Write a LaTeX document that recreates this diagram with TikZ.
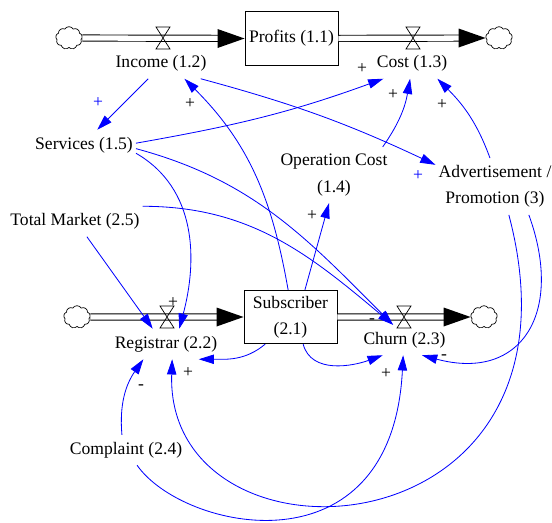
\documentclass[tikz,border=0pt]{standalone}
\usepackage{fontspec}
\setmainfont{Liberation Serif}
\usepackage{tikz}
\usetikzlibrary{arrows.meta}
\usetikzlibrary{shapes.symbols}

\tikzset{
  var/.style={inner xsep=2.5pt, inner ysep=6pt, align=center},
  stock/.style={draw, line width=0.8pt, minimum width=2.79cm, minimum height=1.6cm, inner sep=1pt, align=center},
  cloudy/.style={cloud, draw, fill=white, line width=0.6pt, cloud puffs=9, cloud puff arc=120, aspect=1.15, minimum width=0.8cm, minimum height=0.68cm, inner sep=0pt},
  pipe/.style={draw, double, double distance=4.5pt, line width=0.8pt},
  valve/.style={draw, line width=0.6pt},
  link/.style={blue, line width=0.7pt, -{Triangle[length=13pt,width=8pt]}},
  sign/.style={inner sep=0pt}
}

\begin{document}
\begin{tikzpicture}[x=0.03cm, y=0.03cm, font=\fontsize{15}{22.5}\selectfont]
\useasboundingbox (0,0) rectangle (552,-522);

% stocks and clouds
\node[stock] (prof) at (291.5,-38.5) {Profits (1.1)};
\node[stock] (sub) at (290.5,-317) {Subscriber\\(2.1)};
\node[cloudy] (cA) at (69,-38) {};
\node[cloudy] (cB) at (499,-38) {};
\node[cloudy] (cC) at (77,-317) {};
\node[cloudy] (cD) at (484,-317) {};

% flows
\draw[pipe, shorten >=10pt] (cA) -- (prof);
\draw[pipe, shorten >=10pt] (prof) -- (cB);
\draw[pipe, shorten >=10pt] (cC) -- (sub);
\draw[pipe, shorten >=10pt] (sub) -- (cD);
\fill (prof.west) -- ++(-27,9.5) -- ++(0,-19) -- cycle;
\fill (cB.west) -- ++(-27,9.5) -- ++(0,-19) -- cycle;
\fill (sub.west) -- ++(-27,9.5) -- ++(0,-19) -- cycle;
\fill (cD.west) -- ++(-27,9.5) -- ++(0,-19) -- cycle;

\coordinate (vInc) at (163,-38);
\coordinate (vCost) at (413,-38);
\coordinate (vReg) at (167,-317);
\coordinate (vChurn) at (404,-317);
\foreach \v in {vInc,vCost,vReg,vChurn}
  \draw[valve] (\v) ++(-7,11) -- ++(14,0) -- ++(-14,-22) -- ++(14,0) -- cycle;

% variables
\node[var] (inc) at (161,-63.5) {Income (1.2)};
\node[var] (cost) at (412,-63.5) {Cost (1.3)};
\node[var] (reg) at (166,-344) {Registrar (2.2)};
\node[var] (churn) at (404.5,-340) {Churn (2.3)};
\node[var] (serv) at (84,-145) {Services (1.5)};
\node[var] (opc) at (334,-175) {Operation Cost\\(1.4)};
\node[var] (adv) at (495,-186.5) {Advertisement /\\Promotion (3)};
\node[var] (tm) at (75,-221.5) {Total Market (2.5)};
\node[var] (comp) at (126,-450) {Complaint (2.4)};

% causal links
\draw[link] (inc.230) -- (serv.49);
\draw[link] (sub.95) to[out=100,in=-45] (inc.-33);
\draw[link] (inc.-21) to[bend left=5] (adv.160);
\draw[link] (serv.2) to[out=10,in=200] (cost.208);
\draw[link] (opc.30) to[out=55,in=-100] (cost.-97);
\draw[link] (adv.100) to[out=110,in=-45] (cost.-31);
\draw[link] (sub.62) -- (opc.-100);
\draw[link] (serv.-9) to[out=-30,in=75] (reg.49);
\draw[link] (serv.-4) to[out=-15,in=135] (churn.127);
\draw[link] (tm.north east) to[out=0,in=140] (churn.127);
\draw[link] (tm.-52) -- (reg.131);
\draw[link] (sub.-133) to[out=-140,in=0] (reg.-25);
\draw[link] (sub.-65) to[out=-75,in=-160] (churn.-145);
\draw[link] (comp.105) to[out=95,in=-125] (reg.-146);
\draw[link] (comp.-54) .. controls (183,-531) and (392,-576) .. (churn.-95);
\draw[link] (adv.-64) .. controls (600,-560) and (165,-580) .. (reg.-68);
\draw[link] (adv.-40) to[out=-70,in=-15,looseness=1.5] (churn.-41);

% polarities
\foreach \nm/\px/\py/\sg/\cl in {a/98/103/+/blue, b/190/104/+/black, c/362/69/+/black,
    d/393/95/+/black, e/442/105/+/black, f/418/176/+/blue, g/312/216/+/black,
    h/173/303/+/black, i/141/387/-/black, j/188/373/+/black, k/372/321/-/black,
    l/444/357/-/black, m/386/374/+/black}
  \node[sign, text=\cl] (sg\nm) at (\px,-\py) {\sg};
\end{tikzpicture}
\end{document}
